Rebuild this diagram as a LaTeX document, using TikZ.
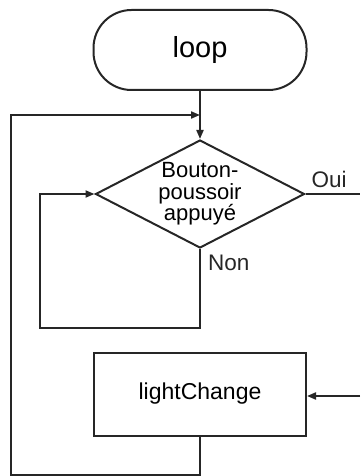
\documentclass[tikz,border=0pt]{standalone}
\usepackage{fontspec}
\setmainfont{Liberation Sans}
\definecolor{ink}{HTML}{262626}
\usetikzlibrary{arrows.meta,positioning,calc,shapes.geometric}
\tikzset{
  >={Triangle[length=9pt,width=7pt]},
  term/.style={draw=ink,line width=2pt,rounded corners=38pt,minimum width=213pt,minimum height=80pt,font=\fontsize{29}{30}\selectfont},
  dec/.style={draw=ink,line width=2pt,diamond,aspect=1.94,inner sep=0pt,minimum width=209pt,minimum height=108pt,align=center,font=\fontsize{22}{21.5}\selectfont},
  proc/.style={draw=ink,line width=2pt,minimum width=212pt,minimum height=83pt,font=\fontsize{23}{24}\selectfont},
  lab/.style={inner sep=0pt,font=\fontsize{22.5}{24}\selectfont,text=ink},
  arr/.style={->,draw=ink,line width=2pt},
  ln/.style={draw=ink,line width=2pt},
}
\begin{document}
\begin{tikzpicture}[x=1pt,y=-1pt]
\useasboundingbox (0,0) rectangle (360,476);
\node[term] (loop) at (200,50) {loop};
\node[dec] (btn) at (200,194) {Bouton-\\poussoir\\appuyé};
\node[proc] (light) at (200,394) {lightChange};
\coordinate (merge) at (200,115);
\coordinate (back) at (11,475);
\coordinate (wait) at (40,328);
\coordinate (yes) at (360,194);
\coordinate (ret) at (360,396);
\draw[arr] (loop)--(btn);
\draw[arr] (light.south) |- (back) |- (merge);
\draw[arr] (btn.south) |- (wait) |- (btn.west);
\draw[ln] (btn.east)--(yes);
\draw[arr] (ret)--(ret -| light.east);
\node[lab,anchor=base west] (oui) at ([xshift=6pt,yshift=7pt]btn.east) {Oui};
\node[lab,anchor=base west] (non) at ([xshift=8pt,yshift=-21pt]btn.south) {Non};
\end{tikzpicture}
\end{document}
